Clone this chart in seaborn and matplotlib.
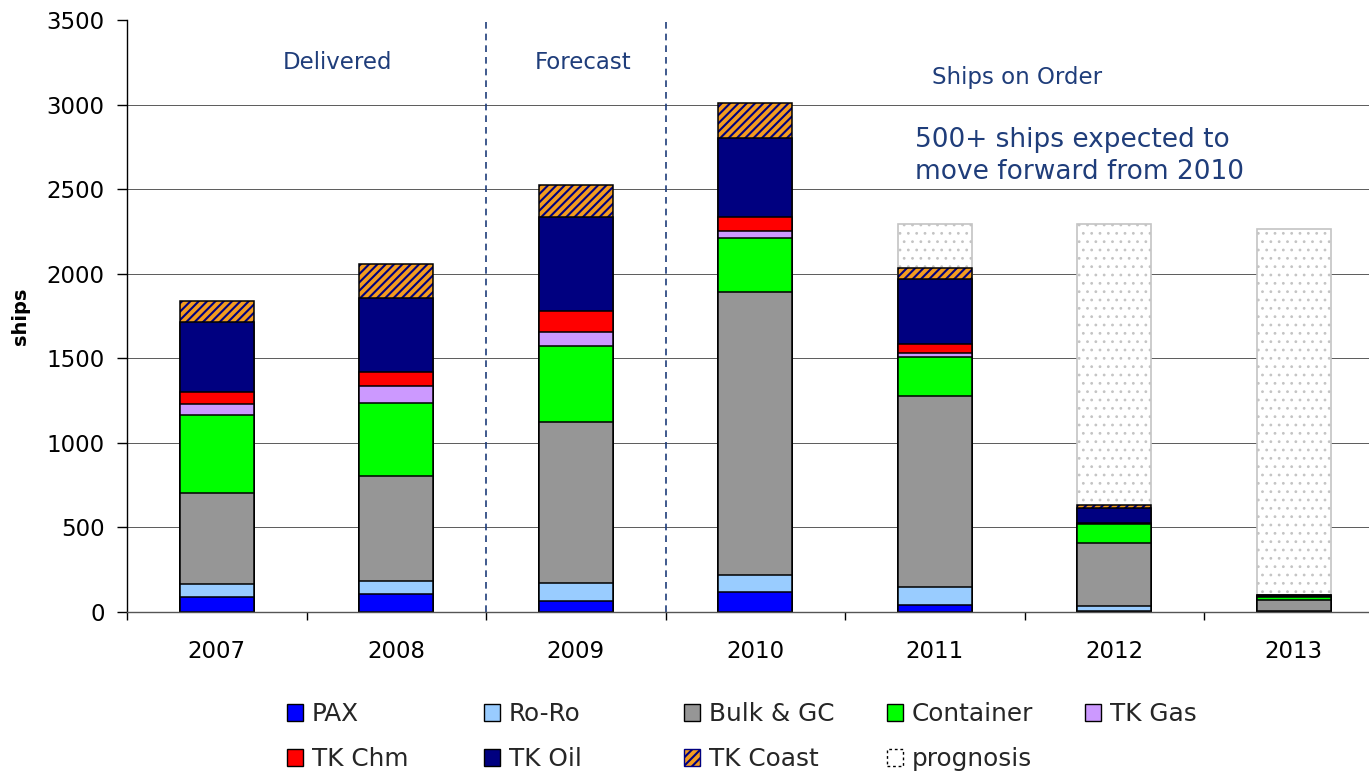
import numpy as np
import pandas as pd
import matplotlib
matplotlib.use("Agg")
import matplotlib.pyplot as plt
from matplotlib.patches import Patch
import seaborn as sns

# ---------------- data ----------------
years = ["2007", "2008", "2009", "2010", "2011", "2012", "2013"]
pax = [90, 105, 65, 120, 43, 8, 2]
ro_ro = [78, 79, 105, 96, 105, 30, 3]
bulk_gc = [537, 620, 952, 1674, 1129, 371, 68]
container = [459, 433, 452, 324, 233, 109, 15]
tk_gas = [66, 101, 79, 40, 22, 5, 2]
tk_chm = [69, 79, 128, 80, 51, 5, 3]
tk_oil = [415, 440, 552, 470, 387, 88, 8]
tk_coast = [126, 202, 189, 206, 63, 14, 2]
prognosis = [0, 0, 0, 0, 262, 1663, 2162]

series_names = ["PAX", "Ro-Ro", "Bulk & GC", "Container", "TK Gas",
                "TK Chm", "TK Oil", "TK Coast"]
series_values = [pax, ro_ro, bulk_gc, container, tk_gas, tk_chm, tk_oil, tk_coast]
series_colors = ["#0000FF", "#99CCFF", "#969696", "#00FF00", "#CC99FF",
                 "#FF0000", "#000080", "#F39C1F"]
yticks = [0, 500, 1000, 1500, 2000, 2500, 3000, 3500]

NAVY = "#000080"
TXT = "#1F3D7A"

# ---------------- style ----------------
sns.set_theme(style="white")
plt.rcParams["font.family"] = ["DejaVu Sans"]
plt.rcParams["hatch.linewidth"] = 1.5

W, H = 1369, 775
fig = plt.figure(figsize=(W / 100, H / 100), dpi=100)
ax = fig.add_axes([127 / W, 1 - 612 / H, 1256.5 / W, 592 / H])

BW = 0.41
EDGE_LW = 1.1

cum = np.cumsum(np.array(series_values, dtype=float), axis=0)
df = pd.DataFrame({"year": years})
for i, name in enumerate(series_names):
    df[name] = cum[i]
df["prog_top"] = cum[-1] + np.array(prognosis, dtype=float)
df["prognosis"] = prognosis

# prognosis (only where > 0), drawn first (tallest)
dprog = df[df["prognosis"] > 0]
sns.barplot(data=dprog, x="year", y="prog_top", order=years, color="white",
            saturation=1, width=BW, errorbar=None, ax=ax, linewidth=1.2,
            edgecolor="#C4C4C4", hatch="..")
for p in ax.containers[-1]:
    p.set_edgecolor("#C4C4C4")
    if hasattr(p, "set_hatch_linewidth"):
        p.set_hatch_linewidth(0.8)

# stacked layers, from top to bottom (painter's order)
for i in range(len(series_names) - 1, -1, -1):
    name = series_names[i]
    if name == "TK Coast":
        sns.barplot(data=df, x="year", y=name, order=years, color=series_colors[i],
                    saturation=1, width=BW, errorbar=None, ax=ax, linewidth=0,
                    edgecolor=NAVY, hatch="////")
        for p in ax.containers[-1]:
            p.set_edgecolor(NAVY)
            p.set_linewidth(0)
            if hasattr(p, "set_hatch_linewidth"):
                p.set_hatch_linewidth(1.5)
        sns.barplot(data=df, x="year", y=name, order=years, color="black",
                    fill=False, width=BW, errorbar=None, ax=ax, linewidth=EDGE_LW)
        for p in ax.containers[-1]:
            p.set_facecolor("none")
            p.set_edgecolor("black")
            p.set_linewidth(EDGE_LW)
    else:
        sns.barplot(data=df, x="year", y=name, order=years, color=series_colors[i],
                    saturation=1, width=BW, errorbar=None, ax=ax,
                    linewidth=EDGE_LW, edgecolor="black")
        for p in ax.containers[-1]:
            p.set_edgecolor("black")

# ---------------- axes ----------------
ax.set_xlim(-0.5, 6.5)
ax.set_ylim(0, 3500)
ax.set_yticks(yticks)
ax.set_yticklabels([str(v) for v in yticks])
ax.set_xlabel("")
ax.set_ylabel("ships", fontsize=14, fontweight="bold", color="black")
ax.yaxis.set_label_coords(-0.077, 0.5)

ax.set_axisbelow(True)
ax.yaxis.grid(True, color="#404040", linewidth=0.6)
ax.xaxis.grid(False)
ygl = ax.get_ygridlines()
ygl[0].set_visible(False)
ygl[-1].set_visible(False)

for s in ["top", "right"]:
    ax.spines[s].set_visible(False)
ax.spines["left"].set_color("black")
ax.spines["left"].set_linewidth(1.0)
ax.spines["bottom"].set_color("#555555")
ax.spines["bottom"].set_linewidth(1.0)

ax.tick_params(axis="y", which="major", direction="out", length=7, width=1,
               color="black", pad=9, labelsize=16.5, labelcolor="black", left=True)
ax.tick_params(axis="x", which="major", length=0, pad=20, labelsize=16.5,
               labelcolor="black")
ax.set_xticks(np.arange(-0.5, 7, 1), minor=True)
ax.tick_params(axis="x", which="minor", direction="out", length=6, width=1,
               color="black", bottom=True)

# dashed separators
for xv in [1.5, 2.5]:
    ax.axvline(xv, color=TXT, linestyle=(0, (4, 3)), linewidth=1.2, zorder=1)

# annotations
ax.text(0.67, 3250, "Delivered", ha="center", va="center", fontsize=16.5, color=TXT)
ax.text(2.04, 3250, "Forecast", ha="center", va="center", fontsize=16.5, color=TXT)
ax.text(4.458, 3162, "Ships on Order", ha="center", va="center", fontsize=16.5, color=TXT)
ax.text(3.89, 2698, "500+ ships expected to\nmove forward from 2010", ha="left",
        va="center", fontsize=19, color=TXT, linespacing=1.3)

# ---------------- legend ----------------
handles = {}
for name, col in zip(series_names, series_colors):
    if name == "TK Coast":
        handles[name] = Patch(facecolor=col, edgecolor=NAVY, hatch="////", linewidth=1.0)
    else:
        handles[name] = Patch(facecolor=col, edgecolor="black", linewidth=1.0)
handles["prognosis"] = Patch(facecolor="white", edgecolor="black",
                             linestyle=(0, (2, 2)), linewidth=1.0)

columns = [["PAX", "TK Chm"], ["Ro-Ro", "TK Oil"], ["Bulk & GC", "TK Coast"],
           ["Container", "prognosis"], ["TK Gas"]]
col_x = [287, 484, 684, 887, 1085]
for names, xpx in zip(columns, col_x):
    fig.legend([handles[n] for n in names], names, loc="upper left",
               bbox_to_anchor=(xpx / W, 1 - 702 / H), frameon=False,
               fontsize=17.8, handlelength=0.66, handleheight=0.66,
               handletextpad=0.35, labelspacing=0.85, borderpad=0,
               borderaxespad=0)

fig.savefig("out.png", dpi=100)
